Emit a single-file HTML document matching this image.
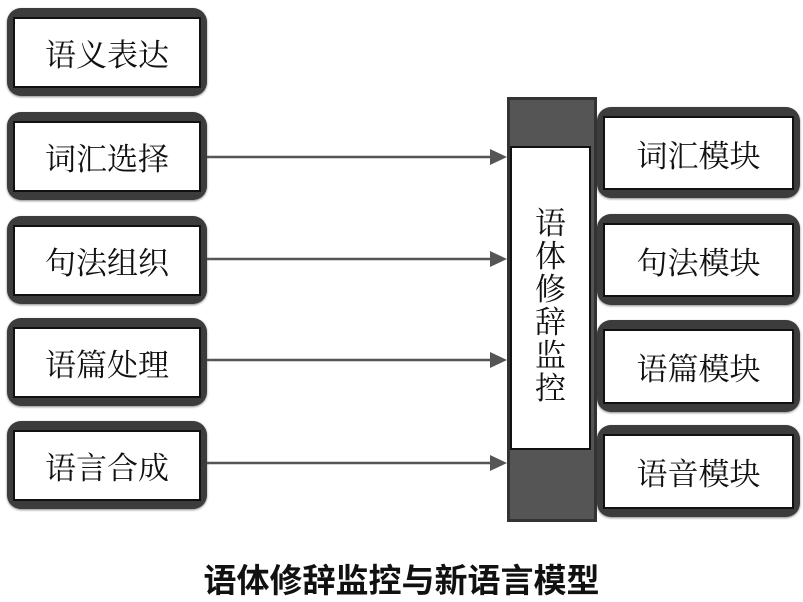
<!DOCTYPE html>
<html><head><meta charset="utf-8"><style>
body{margin:0;width:803px;height:602px;background:#fff;position:relative;overflow:hidden;font-family:"Noto Serif CJK SC","Liberation Serif",serif}
.b{position:absolute;background:#3c3c3c;border-radius:14px;box-shadow:0 1px 2px #888}
.b div{position:absolute;left:6px;right:6px;top:9px;bottom:8px;background:#fff;border:2px solid #111;box-sizing:border-box;display:flex;align-items:center;justify-content:center;font-size:31px;color:#111}
.t{position:absolute;left:0;width:803px;top:554px;text-align:center;font-family:"Liberation Sans","Noto Sans CJK SC",sans-serif;font-weight:bold;font-size:33px;color:#111}
</style></head><body>
<div class="b" style="left:7px;top:8px;width:200px;height:88px"><div>语义表达</div></div>
<div class="b" style="left:7px;top:112px;width:200px;height:88px"><div>词汇选择</div></div>
<div class="b" style="left:7px;top:216px;width:200px;height:88px"><div>句法组织</div></div>
<div class="b" style="left:7px;top:318px;width:200px;height:88px"><div>语篇处理</div></div>
<div class="b" style="left:7px;top:421px;width:200px;height:88px"><div>语言合成</div></div>

<div class="b" style="left:597px;top:107px;width:203px;height:91px"><div>词汇模块</div></div>
<div class="b" style="left:597px;top:214px;width:203px;height:91px"><div>句法模块</div></div>
<div class="b" style="left:597px;top:320px;width:203px;height:92px"><div>语篇模块</div></div>
<div class="b" style="left:597px;top:425px;width:203px;height:92px"><div>语音模块</div></div>

<div style="position:absolute;left:507px;top:97px;width:90px;height:425px;background:#555;border:3px solid #333;box-sizing:border-box"></div>
<div style="position:absolute;left:510px;top:146px;width:81px;height:304px;background:#fff;border:2px solid #111;box-sizing:border-box;font-size:31px;line-height:33px;text-align:center;padding-top:56px;color:#111">语<br>体<br>修<br>辞<br>监<br>控</div>

<svg style="position:absolute;left:0;top:0" width="803" height="602">
<g stroke="#555" stroke-width="2.5" fill="#555">
<line x1="207" y1="157" x2="492" y2="157"/><polygon points="490,149 507,157 490,165" stroke="none"/>
<line x1="207" y1="259" x2="492" y2="259"/><polygon points="490,251 507,259 490,267" stroke="none"/>
<line x1="207" y1="360" x2="492" y2="360"/><polygon points="490,352 507,360 490,368" stroke="none"/>
<line x1="207" y1="463" x2="492" y2="463"/><polygon points="490,455 507,463 490,471" stroke="none"/>
</g></svg>
<div class="t">语体修辞监控与新语言模型</div>
</body></html>
